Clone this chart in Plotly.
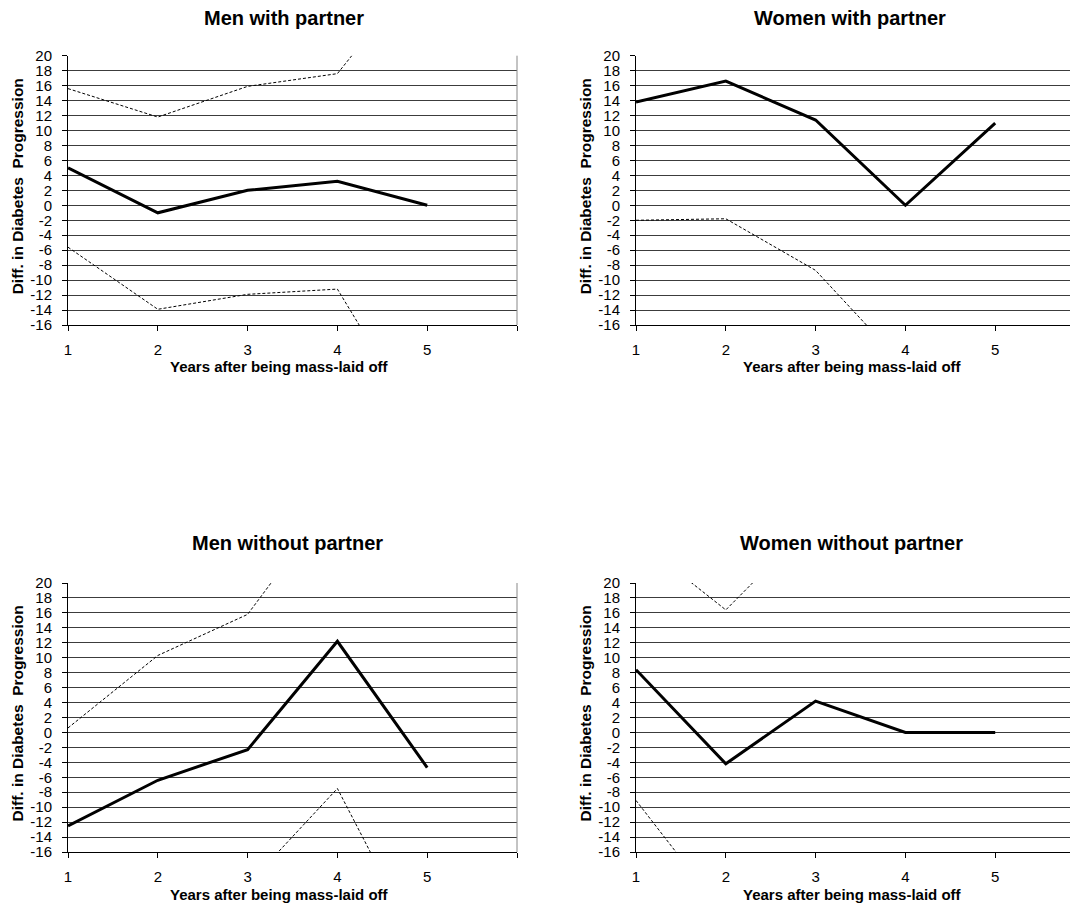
import plotly.graph_objects as go

# ---- data ----
years = [1, 2, 3, 4, 5]

titles = ["Men with partner", "Women with partner",
          "Men without partner", "Women without partner"]

men_partner_est = [5.0, -1.0, 2.0, 3.2, 0.0]
men_partner_lo = [-5.6, -13.9, -11.9, -11.2, -31.0]
men_partner_hi = [15.6, 11.8, 15.9, 17.6, 32.6]

women_partner_est = [13.8, 16.6, 11.4, 0.0, 11.0]
women_partner_lo = [-2.0, -1.8, -8.7, -21.6, -25.0]
women_partner_hi = [29.6, 35.0, 31.5, 21.6, 47.0]

men_nopartner_est = [-12.5, -6.4, -2.3, 12.2, -4.7]
men_nopartner_lo = [-25.6, -23.1, -20.4, -7.5, -30.7]
men_nopartner_hi = [0.6, 10.3, 15.8, 31.9, 21.2]

women_nopartner_est = [8.4, -4.2, 4.2, 0.0, 0.0]
women_nopartner_lo = [-9.1, -24.6, -20.1, -30.0, -30.0]
women_nopartner_hi = [25.9, 16.4, 28.5, 30.0, 30.0]

xtick_vals = [1, 2, 3, 4, 5, 6]
xtick_text = ["1", "2", "3", "4", "5", ""]
ytick_vals = list(range(-16, 21, 2))
ytick_text = [str(v) for v in ytick_vals]  # plain hyphen minus, as in the original

panels = [
    (men_partner_est, men_partner_lo, men_partner_hi),
    (women_partner_est, women_partner_lo, women_partner_hi),
    (men_nopartner_est, men_nopartner_lo, men_nopartner_hi),
    (women_nopartner_est, women_nopartner_lo, women_nopartner_hi),
]

OFF = 8  # page body margin
W, H = 1078 - OFF, 910 - OFF
FONT = "Liberation Sans, Arial, Helvetica, sans-serif"

# pixel layout of plot areas in page coords (left, right, top, bottom)
unit = 89.8
boxes = [
    (68, 68 + 5 * unit, 55.7, 325),
    (636, 636 + 5 * unit, 55.7, 325),
    (68, 68 + 5 * unit, 583, 852),
    (636, 636 + 5 * unit, 583, 852),
]
title_cx = [284, 850, 287, 851]
xtitle_cx = [279, 852, 279, 852]
title_y = [18, 18, 543, 543]

fig = go.Figure()
layout = dict(width=W, height=H,
              margin=dict(l=0, r=0, t=0, b=0, pad=0, autoexpand=False),
              paper_bgcolor="white", plot_bgcolor="white",
              showlegend=False, font=dict(family=FONT, color="black"))
annotations = []
shapes = []


def px(x):
    return (x - OFF) / W


def py(y):
    return 1 - (y - OFF) / H


for i, ((est, lo, hi), (l, r, t, b)) in enumerate(zip(panels, boxes)):
    n = "" if i == 0 else str(i + 1)
    xa, ya = "x" + n, "y" + n
    x0 = px(l)
    x1 = min(px(r), 1.0)
    xmax = 1 + (min(r, 1078) - l) / unit
    for series, width, dash in ((hi, 1, "3px,2px"), (lo, 1, "3px,2px"), (est, 3, "solid")):
        fig.add_trace(go.Scatter(x=years, y=series, mode="lines",
                                 line=dict(color="black", width=width, dash=dash),
                                 xaxis=xa, yaxis=ya, hoverinfo="skip"))
    layout["xaxis" + n] = dict(domain=[x0, x1], range=[1, xmax], anchor=ya,
                               tickvals=xtick_vals, ticktext=xtick_text,
                               ticks="outside", ticklen=5, tickcolor="black",
                               showline=True, linecolor="black", linewidth=1,
                               showgrid=False, zeroline=False, automargin=False,
                               tickfont=dict(size=15, family=FONT, color="black"),
                               ticklabelstandoff=6)
    layout["yaxis" + n] = dict(domain=[py(b), py(t)], range=[-16, 20], anchor=xa,
                               tickvals=ytick_vals, ticktext=ytick_text,
                               ticks="outside", ticklen=5,
                               tickcolor="black", showline=True, linecolor="black",
                               linewidth=1, showgrid=True, gridcolor="#3c3c3c",
                               gridwidth=1, zeroline=False, automargin=False,
                               tickfont=dict(size=15, family=FONT, color="black"),
                               ticklabelstandoff=7)
    # right border of plot area
    shapes.append(dict(type="line", xref=xa + " domain", yref=ya + " domain",
                       x0=1, x1=1, y0=0, y1=1, line=dict(color="#888", width=1)))
    annotations.append(dict(text="<b>" + titles[i] + "</b>",
                            x=px(title_cx[i]), y=py(title_y[i]),
                            xref="paper", yref="paper", showarrow=False,
                            xanchor="center", yanchor="middle",
                            font=dict(size=20, family=FONT, color="black")))
    annotations.append(dict(text="<b>Years after being mass-laid off</b>",
                            x=px(xtitle_cx[i]), y=py(b + 42),
                            xref="paper", yref="paper", showarrow=False,
                            xanchor="center", yanchor="middle",
                            font=dict(size=15, family=FONT, color="black")))
    annotations.append(dict(text="<b>Diff. in Diabetes  Progression</b>",
                            x=px(l - 51), y=py((t + b) / 2 - 4),
                            xref="paper", yref="paper", showarrow=False,
                            textangle=-90, xanchor="center", yanchor="middle",
                            font=dict(size=15.5, family=FONT, color="black")))

layout["annotations"] = annotations
layout["shapes"] = shapes
fig.update_layout(**layout)
fig.write_html("out.html")
